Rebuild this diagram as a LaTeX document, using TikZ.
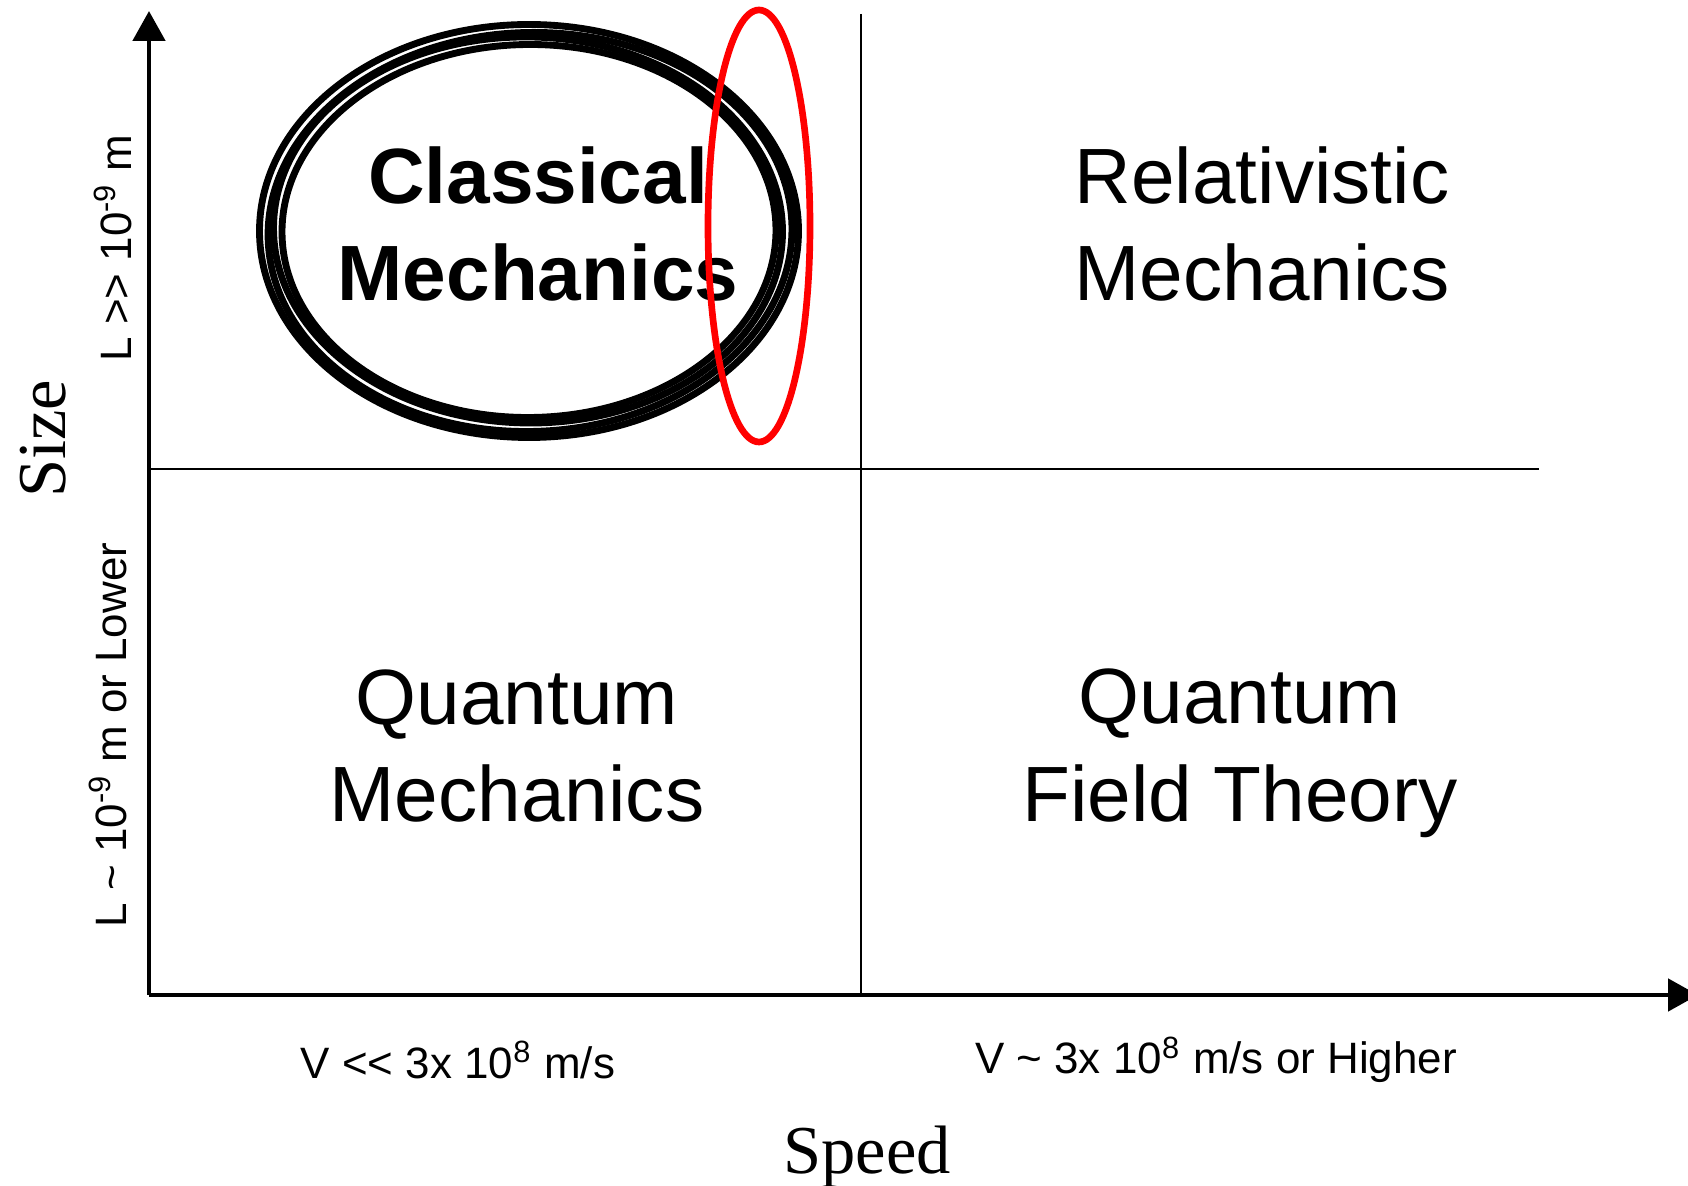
\documentclass[tikz,border=0pt]{standalone}
\usepackage{fontspec}
\setmainfont{Liberation Sans}
\newfontfamily\axisserif{Liberation Serif}
\definecolor{markred}{RGB}{255, 0, 0}
\usepackage{tikz}
\usetikzlibrary{arrows.meta, positioning}
\tikzset{
    axisline/.style={line width=1.4pt, -{Triangle[length=3mm, width=3.2mm]}},
    divider/.style={line width=0.6pt},
    regime/.style={font=\fontsize{22.3}{27.8}\selectfont, align=center, inner sep=0pt},
    regimebold/.style={regime, font=\fontsize{22.3}{27.8}\selectfont\bfseries},
    scalelabel/.style={font=\fontsize{12.5}{15}\selectfont, inner sep=0pt},
    axistitle/.style={font=\axisserif\fontsize{19.5}{23}\selectfont, inner sep=0pt},
    sketchring/.style={draw, line width=1.95pt},
    highlight/.style={draw=markred, line width=1.9pt},
}

\begin{document}
\begin{tikzpicture}
    \useasboundingbox (0,0) rectangle (16.88,11.86);

    % Axes
    \coordinate (origin) at (1.49, 1.91);
    \coordinate (ytop) at (1.49, 11.75);
    \coordinate (xend) at (16.98, 1.91);
    \draw[axisline] (origin) -- (ytop);
    \draw[axisline] (origin) -- (xend);

    % Quadrant dividers
    \coordinate (hleft) at (1.49, 7.17);
    \coordinate (hright) at (15.39, 7.17);
    \coordinate (vtop) at (8.61, 11.72);
    \coordinate (vbottom) at (8.61, 1.91);
    \draw[divider] (hleft) -- (hright);
    \draw[divider] (vtop) -- (vbottom);

    % Hand-drawn ring round the classical regime
    \foreach \dx/\dy/\rx/\ry/\rot in {0/0/2.695/2.065/0, 0.01/-0.01/2.62/1.995/1.5, -0.01/0.01/2.545/1.93/-1, 0/0/2.47/1.865/0.5}
        \draw[sketchring, rotate around={\rot:(5.29,9.55)}] (5.29+\dx, 9.55+\dy) ellipse ({\rx} and {\ry});

    % Regimes
    \node[regimebold] (classical) at (5.38, 9.62) {Classical\\Mechanics};
    \node[regime] (relativistic) at (12.62, 9.62) {Relativistic\\Mechanics};
    \node[regime] (quantum) at (5.17, 4.40) {Quantum\\Mechanics};
    \node[regime] (qft) at (12.40, 4.33) {Quantum\\Field Theory};

    % Highlight of the boundary
    \draw[highlight] (7.59, 9.60) ellipse (0.51 and 2.16);

    % Size scale
    \node[scalelabel, rotate=90] (sizehigh) at (1.13, 9.38) {L >\kern0pt> 10\textsuperscript{-9} m};
    \node[scalelabel, rotate=90] (sizelow) at (1.08, 4.51) {L \textasciitilde\ 10\textsuperscript{-9} m or Lower};
    \node[axistitle, rotate=90] (sizetitle) at (0.43, 7.47) {Size};

    % Speed scale
    \node[scalelabel] (speedlow) at (4.58, 1.26) {V <\kern0pt< 3x 10\textsuperscript{8} m/s};
    \node[scalelabel] (speedhigh) at (12.16, 1.26) {V \textasciitilde\ 3x 10\textsuperscript{8} m/s or Higher};
    \node[axistitle] (speedtitle) at (8.67, 0.29) {Speed};
\end{tikzpicture}
\end{document}
